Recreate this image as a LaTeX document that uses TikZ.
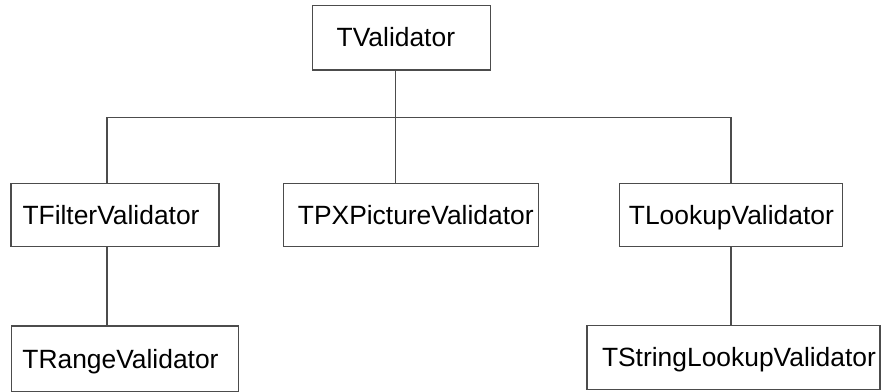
\documentclass[tikz,border=0pt]{standalone}
\usepackage{fontspec}
\setmainfont{Liberation Sans}
\usetikzlibrary{positioning}

\begin{document}
\begin{tikzpicture}[x=1pt,y=-1pt,line width=1.1pt,
    link/.style={draw=black!70},
    class node/.style={rectangle,draw=black!70,inner xsep=0pt,inner ysep=0pt,
      align=left,text height=18.5pt,text depth=0pt,
      font=\fontsize{26.4}{30}\selectfont}]

  \useasboundingbox (0,0) rectangle (881,391);

  \node[class node,minimum width=178pt,minimum height=64.7pt,text width=130pt] (top) at (401.7,37.6) {TValidator};

  \node[class node,minimum width=208pt,minimum height=63.5pt,text width=185pt] (filter) at (115,215) {TFilterValidator};
  \node[class node,minimum width=255.7pt,minimum height=63.7pt,text width=226pt] (pic) at (410.9,215) {TPXPictureValidator};
  \node[class node,minimum width=223.7pt,minimum height=63.7pt,text width=204pt] (lookup) at (730.9,215) {TLookupValidator};

  \node[class node,minimum width=227.7pt,minimum height=66pt,text width=205pt] (range) at (124.9,359) {TRangeValidator};
  \node[class node,minimum width=293pt,minimum height=63.6pt,text width=263pt] (string) at (733.5,357.5) {TStringLookupValidator};

  \coordinate (trunk) at (395.5,117.3);
  \coordinate (busL) at (107,117.3);
  \coordinate (busR) at (731,117.3);

  \draw[link] (trunk |- top.south) -- (trunk |- pic.north);
  \draw[link] (busL |- filter.north) -- (busL) -- (busR) -- (busR |- lookup.north);
  \draw[link] (busL |- filter.south) -- (busL |- range.north);
  \draw[link] (busR |- lookup.south) -- (busR |- string.north);
\end{tikzpicture}
\end{document}
